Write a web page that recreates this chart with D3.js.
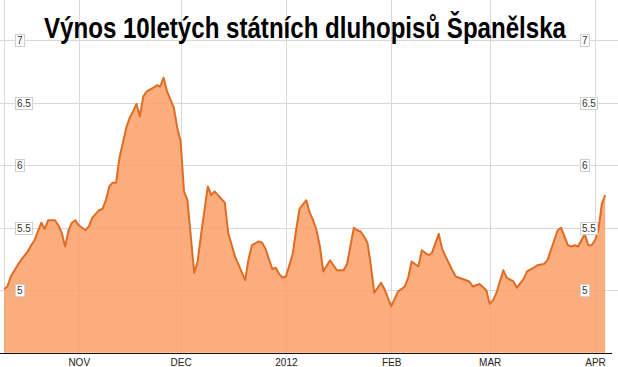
<!DOCTYPE html>
<html><head><meta charset="utf-8">
<script src="https://cdn.jsdelivr.net/npm/d3@7"></script>
<style>body{margin:0;background:#fff}svg{display:block}</style>
</head><body><svg id="c" width="618" height="367"></svg>
<script>
const dates = ["2011-10-10","2011-10-11","2011-10-12","2011-10-14","2011-10-15","2011-10-17","2011-10-18","2011-10-19","2011-10-20","2011-10-21","2011-10-22","2011-10-23","2011-10-25","2011-10-26","2011-10-27","2011-10-28","2011-10-29","2011-10-30","2011-10-31",
"2011-11-01","2011-11-03","2011-11-04","2011-11-05","2011-11-07","2011-11-08","2011-11-09","2011-11-10","2011-11-11","2011-11-12","2011-11-13","2011-11-15","2011-11-16","2011-11-17","2011-11-18","2011-11-19","2011-11-20","2011-11-21","2011-11-23","2011-11-24","2011-11-25","2011-11-26","2011-11-27","2011-11-29","2011-11-30",
"2011-12-01","2011-12-02","2011-12-03","2011-12-05","2011-12-06","2011-12-07","2011-12-09","2011-12-10","2011-12-11","2011-12-13","2011-12-14","2011-12-15","2011-12-17","2011-12-20","2011-12-21","2011-12-22","2011-12-24","2011-12-25","2011-12-26","2011-12-28","2011-12-29","2011-12-30","2011-12-31",
"2012-01-01","2012-01-03","2012-01-04","2012-01-05","2012-01-07","2012-01-08","2012-01-09","2012-01-10","2012-01-11","2012-01-12","2012-01-14","2012-01-15","2012-01-16","2012-01-18","2012-01-19","2012-01-21","2012-01-22","2012-01-23","2012-01-24","2012-01-25","2012-01-26","2012-01-27","2012-01-29","2012-01-30","2012-01-31",
"2012-02-01","2012-02-02","2012-02-03","2012-02-05","2012-02-06","2012-02-07","2012-02-09","2012-02-10","2012-02-12","2012-02-13","2012-02-15","2012-02-16","2012-02-17","2012-02-19","2012-02-20","2012-02-22","2012-02-24","2012-02-25","2012-02-27","2012-02-29",
"2012-03-01","2012-03-02","2012-03-03","2012-03-05","2012-03-06","2012-03-08","2012-03-09","2012-03-11","2012-03-12","2012-03-14","2012-03-15","2012-03-17","2012-03-18","2012-03-20","2012-03-21","2012-03-22","2012-03-23","2012-03-24","2012-03-25","2012-03-26","2012-03-27","2012-03-28","2012-03-29","2012-03-30","2012-03-31",
"2012-04-01","2012-04-02","2012-04-03","2012-04-04"];
const values = [5.01,5.03,5.11,5.20,5.24,5.31,5.36,5.40,5.47,5.54,5.49,5.56,5.56,5.52,5.46,5.35,5.48,5.54,5.56,
5.52,5.48,5.51,5.58,5.64,5.65,5.72,5.83,5.86,5.86,6.06,6.30,6.38,6.43,6.49,6.39,6.55,6.59,6.62,6.64,6.63,6.70,6.59,6.46,6.30,
6.19,5.79,5.72,5.14,5.23,5.44,5.83,5.76,5.79,5.73,5.70,5.46,5.27,5.08,5.25,5.36,5.39,5.38,5.33,5.17,5.18,5.13,5.10,
5.11,5.29,5.48,5.65,5.72,5.62,5.56,5.48,5.35,5.15,5.24,5.20,5.16,5.16,5.21,5.50,5.48,5.47,5.43,5.38,5.20,4.98,5.06,5.01,4.94,
4.87,4.93,4.99,5.03,5.10,5.23,5.19,5.32,5.28,5.30,5.45,5.33,5.27,5.16,5.11,5.09,5.07,5.03,5.05,5.00,
4.89,4.92,4.98,5.16,5.10,5.07,5.02,5.09,5.15,5.18,5.20,5.21,5.24,5.40,5.48,5.50,5.43,5.36,5.35,5.36,5.35,5.40,5.45,5.36,5.36,
5.40,5.48,5.69,5.76];
const yTickValues = [5, 5.5, 6, 6.5, 7];
const yTickLabels = ["5", "5.5", "6", "6.5", "7"];
const xTickDates = ["2011-11-01", "2011-12-01", "2012-01-01", "2012-02-01", "2012-03-01", "2012-04-01"];
const xTickLabels = ["NOV", "DEC", "2012", "FEB", "MAR", "APR"];
const titleText = "Výnos 10letých státních dluhopisů Španělska";

const parse = d3.timeParse("%Y-%m-%d");
const data = dates.map((d, i) => ({date: parse(d), value: values[i]}));
const W = 618, H = 367;
const svg = d3.select("#c");
const x = d3.scaleTime().domain([parse("2011-10-10"), parse("2012-04-06")]).range([4, 612]);
const y = d3.scaleLinear().domain([4.5, 7]).range([352.7, 40.2]);
const font = "Arial, 'Liberation Sans', sans-serif";

// grid
svg.append("g").selectAll("line").data(yTickValues).join("line")
  .attr("x1", 0).attr("x2", W).attr("y1", d => Math.round(y(d)) + 0.5).attr("y2", d => Math.round(y(d)) + 0.5)
  .attr("stroke", "#d9d9d9").attr("stroke-width", 1);
const tickDates = xTickDates.map(parse);
svg.append("g").selectAll("line").data(tickDates).join("line")
  .attr("x1", d => Math.round(x(d)) + 0.5).attr("x2", d => Math.round(x(d)) + 0.5).attr("y1", 0).attr("y2", 353)
  .attr("stroke", "#d9d9d9").attr("stroke-width", 1);
svg.append("line").attr("x1", 4.5).attr("x2", 4.5).attr("y1", 0).attr("y2", 353).attr("stroke", "#d9d9d9");

// area + line
const area = d3.area().x(d => x(d.date)).y0(y(4.5)).y1(d => y(d.value));
svg.append("path").datum(data).attr("d", area).attr("fill", "rgb(250,160,105)").attr("fill-opacity", 0.86);
const line = d3.line().x(d => x(d.date)).y(d => y(d.value));
svg.append("path").datum(data).attr("d", line).attr("fill", "none")
  .attr("stroke", "rgb(222,108,36)").attr("stroke-width", 2).attr("stroke-linejoin", "round");

// x axis
const xAxis = d3.axisBottom(x).tickValues(tickDates).tickSize(0).tickPadding(6)
  .tickFormat((d, i) => xTickLabels[i]);
const gx = svg.append("g").attr("transform", "translate(0,353)").call(xAxis);
gx.select(".domain").remove();
gx.selectAll("text").attr("font-family", font).attr("font-size", 10).attr("fill", "#222").attr("dy", "0.71em");
svg.append("line").attr("x1", 0).attr("x2", 612).attr("y1", 353.5).attr("y2", 353.5).attr("stroke", "#111").attr("stroke-width", 1);

// y labels, both sides
function yLabels(x0) {
  const g = svg.append("g");
  yTickValues.forEach((v, i) => {
    const t = yTickLabels[i];
    const gy = Math.round(y(v)) + 0.5;
    const tx = g.append("text").text(t).attr("x", x0 + 2).attr("y", gy + 3.5)
      .attr("font-family", font).attr("font-size", 10).attr("fill", "#333");
    const w = tx.node().getComputedTextLength();
    g.insert("rect", "text").attr("x", x0 + 0.5).attr("y", gy - 6).attr("width", Math.round(w) + 3).attr("height", 12)
      .attr("fill", "#fff").attr("stroke", "#d0d0d0").attr("stroke-width", 1);
  });
}
yLabels(15);
yLabels(580);

// title (condensed: narrow glyphs stretched vertically)
svg.append("text").text(titleText)
  .attr("transform", "translate(44,38) scale(1,1.25)")
  .attr("x", 0).attr("y", 0)
  .attr("font-family", font).attr("font-weight", "bold").attr("font-size", 24)
  .attr("textLength", 522).attr("lengthAdjust", "spacingAndGlyphs").attr("fill", "#000");
</script>
</body></html>
